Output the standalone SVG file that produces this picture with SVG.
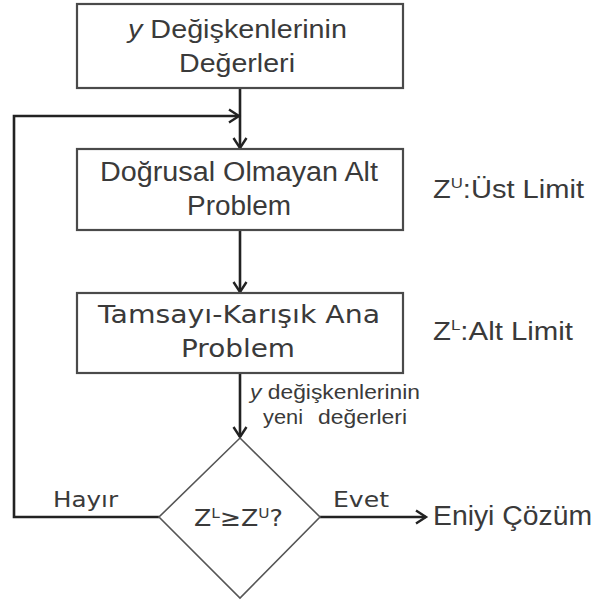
<svg xmlns="http://www.w3.org/2000/svg" width="594" height="606" viewBox="0 0 594 606">
<style>
.box{fill:#fff;stroke:#4a4a4a;stroke-width:2.2}
.dia{fill:#fff;stroke:#555;stroke-width:1.6}
.ln{fill:none;stroke:#222;stroke-width:2.6}
.t{font-family:"Liberation Sans",Arial,sans-serif;fill:#3a3a3a}
.v{font-family:"DejaVu Sans",Verdana,sans-serif;fill:#3a3a3a}
</style>
<defs>
<marker id="arr" markerUnits="userSpaceOnUse" markerWidth="16" markerHeight="16" viewBox="0 0 16 16" refX="13" refY="8" orient="auto">
<path d="M3,1.5 L13,8 L3,14.5" fill="none" stroke="#222" stroke-width="2.4"/>
</marker>
</defs>
<rect width="594" height="606" fill="#fff"/>
<g id="connectors">
<line class="ln" x1="240" y1="89" x2="240" y2="148" marker-end="url(#arr)"/>
<polyline class="ln" points="159,517 14,517 14,116 239,116" marker-end="url(#arr)"/>
<line class="ln" x1="240" y1="231" x2="240" y2="292" marker-end="url(#arr)"/>
<line class="ln" x1="240" y1="374" x2="240" y2="437" marker-end="url(#arr)"/>
<line class="ln" x1="320" y1="517" x2="426" y2="517" marker-end="url(#arr)"/>
</g>
<g id="node-y-degerleri">
<rect class="box" x="77" y="4" width="326" height="84"/>
<text class="t" font-size="25" x="128" y="38" textLength="219" lengthAdjust="spacingAndGlyphs"><tspan font-style="italic">y</tspan> Değişkenlerinin</text>
<text class="t" font-size="25" x="179" y="72" textLength="116" lengthAdjust="spacingAndGlyphs">Değerleri</text>
</g>
<g id="node-alt-problem">
<rect class="box" x="77" y="149" width="326" height="81"/>
<text class="t" font-size="27" x="100" y="181" textLength="278" lengthAdjust="spacingAndGlyphs">Doğrusal Olmayan Alt</text>
<text class="t" font-size="27" x="187" y="215" textLength="104" lengthAdjust="spacingAndGlyphs">Problem</text>
</g>
<g id="node-ana-problem">
<rect class="box" x="77" y="293" width="326" height="80"/>
<text class="v" font-size="25" x="98" y="323" textLength="282" lengthAdjust="spacingAndGlyphs">Tamsayı-Karışık Ana</text>
<text class="v" font-size="25" x="181" y="357" textLength="114" lengthAdjust="spacingAndGlyphs">Problem</text>
</g>
<g id="node-karar">
<polygon class="dia" points="240,438 320,517 240,598 159,517"/>
<text class="v" font-size="23" x="194" y="526" textLength="89" lengthAdjust="spacingAndGlyphs">Z<tspan font-size="14" baseline-shift="55%">L</tspan>≥Z<tspan font-size="14" baseline-shift="55%">U</tspan>?</text>
</g>
<g id="node-eniyi">
<text class="t" font-size="27" x="433" y="525" textLength="159" lengthAdjust="spacingAndGlyphs">Eniyi Çözüm</text>
</g>
<g id="labels">
<text class="t" font-size="26" x="433" y="198" textLength="151" lengthAdjust="spacingAndGlyphs">Z<tspan font-size="15" baseline-shift="65%">U</tspan>:Üst Limit</text>
<text class="t" font-size="26" x="433" y="340" textLength="140" lengthAdjust="spacingAndGlyphs">Z<tspan font-size="15" baseline-shift="65%">L</tspan>:Alt Limit</text>
<text class="t" font-size="20" x="250" y="399" textLength="170" lengthAdjust="spacingAndGlyphs"><tspan font-style="italic">y</tspan> değişkenlerinin</text>
<text class="t" font-size="20" x="263" y="424" textLength="40" lengthAdjust="spacingAndGlyphs">yeni</text>
<text class="t" font-size="20" x="318" y="424" textLength="89" lengthAdjust="spacingAndGlyphs">değerleri</text>
<text class="v" font-size="22" x="53" y="507" textLength="65" lengthAdjust="spacingAndGlyphs">Hayır</text>
<text class="v" font-size="22" x="333" y="507" textLength="56" lengthAdjust="spacingAndGlyphs">Evet</text>
</g>
</svg>
